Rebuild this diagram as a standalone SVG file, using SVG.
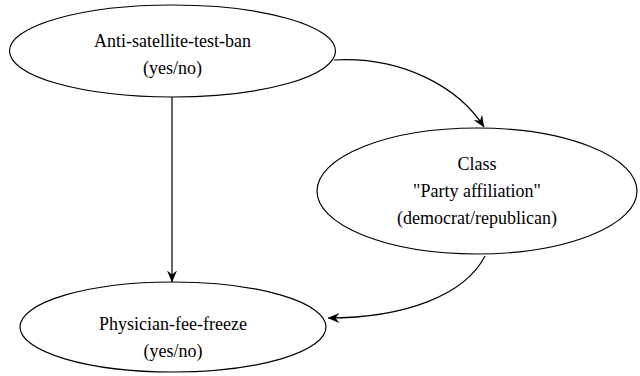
<svg xmlns="http://www.w3.org/2000/svg" width="640" height="376" viewBox="0 0 640 376">
<defs>
<marker id="arr" viewBox="0 0 12 10" refX="11.5" refY="5" markerWidth="12" markerHeight="10" markerUnits="userSpaceOnUse" orient="auto">
<path d="M0,0 L12,5 L0,10 L4,5 z" fill="#000"/>
</marker>
</defs>
<rect width="640" height="376" fill="#fff"/>
<g id="connectors" fill="none" stroke="#000" stroke-width="1.2" marker-end="url(#arr)">
<path d="M172,97 L172,282"/>
<path d="M334,60 C400,56 458,86 484,127"/>
<path d="M485,256 C465,295 405,318 328,318"/>
</g>
<g id="anti">
<ellipse cx="172.5" cy="51" rx="163" ry="46" fill="#fff" stroke="#000" stroke-width="1.2"/>
<text x="172.5" y="47" font-family="Liberation Serif" font-size="18" text-anchor="middle">Anti-satellite-test-ban</text>
<text x="172.5" y="74" font-family="Liberation Serif" font-size="18" text-anchor="middle">(yes/no)</text>
</g>
<g id="class">
<ellipse cx="477" cy="191" rx="160" ry="63" fill="#fff" stroke="#000" stroke-width="1.2"/>
<text x="477" y="170" font-family="Liberation Serif" font-size="18" text-anchor="middle">Class</text>
<text x="477" y="197" font-family="Liberation Serif" font-size="18" text-anchor="middle">"Party affiliation"</text>
<text x="477" y="224" font-family="Liberation Serif" font-size="18" text-anchor="middle">(democrat/republican)</text>
</g>
<g id="physician">
<ellipse cx="173" cy="327" rx="153" ry="45" fill="#fff" stroke="#000" stroke-width="1.2"/>
<text x="173" y="330" font-family="Liberation Serif" font-size="18" text-anchor="middle">Physician-fee-freeze</text>
<text x="173" y="357" font-family="Liberation Serif" font-size="18" text-anchor="middle">(yes/no)</text>
</g>
</svg>
